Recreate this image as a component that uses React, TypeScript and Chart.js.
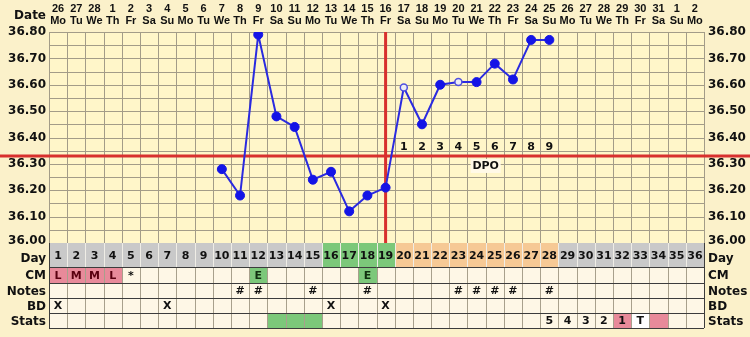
import React, { useEffect, useRef } from "react";
import { Chart, registerables } from "chart.js";
Chart.register(...registerables);

// ---------- DATA ----------
const cycleDays = [1,2,3,4,5,6,7,8,9,10,11,12,13,14,15,16,17,18,19,20,21,22,23,24,25,26,27,28,29,30,31,32,33,34,35,36];
const dateNumbers = ["26","27","28","1","2","3","4","5","6","7","8","9","10","11","12","13","14","15","16","17","18","19","20","21","22","23","24","25","26","27","28","29","30","31","1","2"];
const weekdays = ["Mo","Tu","We","Th","Fr","Sa","Su","Mo","Tu","We","Th","Fr","Sa","Su","Mo","Tu","We","Th","Fr","Sa","Su","Mo","Tu","We","Th","Fr","Sa","Su","Mo","Tu","We","Th","Fr","Sa","Su","Mo"];
const tempDays = [10,11,12,13,14,15,16,17,18,19,20,21,22,23,24,25,26,27,28];
const temperatures = [36.28,36.18,36.79,36.48,36.44,36.24,36.27,36.12,36.18,36.21,36.59,36.45,36.60,36.61,36.61,36.68,36.62,36.77,36.77];
const openCircleDays = [20,23];
const yTickValues = [36.0,36.1,36.2,36.3,36.4,36.5,36.6,36.7,36.8];
const yTickLabels = ["36.00","36.10","36.20","36.30","36.40","36.50","36.60","36.70","36.80"];
const coverline = 36.33;
const ovulationDay = 19;
const dpoDays = [20,21,22,23,24,25,26,27,28];
const dpoLabels = ["1","2","3","4","5","6","7","8","9"];
const fertileDays = [16,17,18,19];
const lutealDays = [20,21,22,23,24,25,26,27,28];
const cmDays = [1,2,3,4,5,12,18];
const cmCodes = ["L","M","M","L","*","E","E"];
const noteDays = [11,12,15,18,23,24,25,26,28];
const bdDays = [1,7,16,19];
const statsGreenDays = [13,14,15];
const statsDays = [28,29,30,31,32,33,34];
const statsLabels = ["5","4","3","2","1","T",""];
const rowLabels = ["Day","CM","Notes","BD","Stats"];

// ---------- STYLE ----------
const BG = "#FBF1CA";
const PLOT_BG = "#FFF6C9";
const CELL_BG = "#FEF7E6";
const GRID = "#A39C88";
const RED = "#D8302E";
const BLUE = "#2A2AE0";
const PINK = "#E88A9A";
const GREEN = "#7CC87A";
const ORANGE = "#F6C995";
const GRAY = "#C9C9C9";
const TXT = "#111";
const FONT_BIG = 'bold 12px "DejaVu Sans", sans-serif';
const FONT_CELL = 'bold 11px "DejaVu Sans", sans-serif';
const FONT_HEAD = 'bold 11px "Liberation Sans", Arial, sans-serif';

const rows = [
  { top: 243, bottom: 267 },
  { top: 267, bottom: 283 },
  { top: 283, bottom: 298 },
  { top: 298, bottom: 313 },
  { top: 313, bottom: 328 },
];

const framePlugin = {
  id: "bbtFrame",
  beforeDraw(chart: any) {
    const ctx = chart.ctx;
    const xs = chart.scales.x;
    const ys = chart.scales.y;
    const ca = chart.chartArea;
    ctx.save();
    ctx.fillStyle = BG;
    ctx.fillRect(0, 0, chart.width, chart.height);
    ctx.fillStyle = PLOT_BG;
    ctx.fillRect(ca.left, ca.top, ca.right - ca.left, ca.bottom - ca.top);

    // grid
    ctx.strokeStyle = GRID;
    ctx.lineWidth = 1;
    ctx.beginPath();
    for (let v = 36.0; v <= 36.801; v += 0.05) {
      const y = Math.round(ys.getPixelForValue(v)) + 0.5;
      ctx.moveTo(ca.left, y);
      ctx.lineTo(ca.right, y);
    }
    for (let d = 0; d <= cycleDays.length; d++) {
      const x = Math.round(xs.getPixelForValue(d + 0.5)) + 0.5;
      ctx.moveTo(x, ca.top);
      ctx.lineTo(x, ca.bottom);
    }
    ctx.stroke();

    // table
    const left = xs.getPixelForValue(0.5);
    const right = xs.getPixelForValue(36.5);
    const cl = (d: number) => Math.round(xs.getPixelForValue(d - 0.5));
    const cr = (d: number) => Math.round(xs.getPixelForValue(d + 0.5));
    const cx = (d: number) => xs.getPixelForValue(d);

    cycleDays.forEach((d) => {
      let c = GRAY;
      if (fertileDays.includes(d)) c = GREEN;
      if (lutealDays.includes(d)) c = ORANGE;
      ctx.fillStyle = c;
      ctx.fillRect(cl(d), rows[0].top, cr(d) - cl(d), rows[0].bottom - rows[0].top);
    });
    ctx.fillStyle = CELL_BG;
    ctx.fillRect(left, rows[1].top, right - left, rows[4].bottom - rows[1].top);

    cmDays.forEach((d, i) => {
      const code = cmCodes[i];
      let c: string | null = null;
      if (code === "L" || code === "M") c = PINK;
      if (code === "E") c = GREEN;
      if (c) {
        ctx.fillStyle = c;
        ctx.fillRect(cl(d), rows[1].top, cr(d) - cl(d), rows[1].bottom - rows[1].top);
      }
    });
    statsGreenDays.forEach((d) => {
      ctx.fillStyle = GREEN;
      ctx.fillRect(cl(d), rows[4].top, cr(d) - cl(d), rows[4].bottom - rows[4].top);
    });
    statsDays.forEach((d, i) => {
      const lab = statsLabels[i];
      let c: string | null = null;
      if (lab === "1" || lab === "") c = PINK;
      if (lab === "T") c = "#FFFFFF";
      if (c) {
        ctx.fillStyle = c;
        ctx.fillRect(cl(d), rows[4].top, cr(d) - cl(d), rows[4].bottom - rows[4].top);
      }
    });

    ctx.beginPath();
    ctx.strokeStyle = "#EFEDE6";
    for (let d = 1; d < cycleDays.length; d++) {
      const x = cr(d) + 0.5;
      ctx.moveTo(x, rows[0].top);
      ctx.lineTo(x, rows[0].bottom);
    }
    ctx.stroke();
    ctx.beginPath();
    ctx.strokeStyle = "#A8A08C";
    for (let d = 0; d <= cycleDays.length; d++) {
      const x = Math.round(xs.getPixelForValue(d + 0.5)) + 0.5;
      ctx.moveTo(x, rows[1].top);
      ctx.lineTo(x, rows[4].bottom);
    }
    ctx.stroke();
    ctx.beginPath();
    ctx.strokeStyle = "#3C3C3C";
    rows.forEach((r) => {
      ctx.moveTo(left, r.bottom + 0.5);
      ctx.lineTo(right, r.bottom + 0.5);
    });
    ctx.moveTo(Math.round(left) + 0.5, rows[0].top);
    ctx.lineTo(Math.round(left) + 0.5, rows[4].bottom);
    ctx.moveTo(Math.round(right) + 0.5, rows[0].top);
    ctx.lineTo(Math.round(right) + 0.5, rows[4].bottom);
    ctx.stroke();

    // table texts
    ctx.font = FONT_CELL;
    ctx.fillStyle = TXT;
    ctx.textAlign = "center";
    ctx.textBaseline = "middle";
    const mid = (r: any) => (r.top + r.bottom) / 2 + 1;
    cycleDays.forEach((d) => ctx.fillText(String(d), cx(d), mid(rows[0])));
    cmDays.forEach((d, i) => {
      ctx.fillStyle = cmCodes[i] === "E" ? "#103010" : cmCodes[i] === "*" ? TXT : "#5A0010";
      ctx.fillText(cmCodes[i], cx(d), mid(rows[1]));
    });
    ctx.fillStyle = TXT;
    noteDays.forEach((d) => ctx.fillText("#", cx(d), mid(rows[2])));
    bdDays.forEach((d) => ctx.fillText("X", cx(d), mid(rows[3])));
    statsDays.forEach((d, i) => ctx.fillText(statsLabels[i], cx(d), mid(rows[4])));

    ctx.font = FONT_BIG;
    rows.forEach((r, i) => {
      const y = mid(r) + (i === 0 ? 3 : 0);
      ctx.textAlign = "right";
      ctx.fillText(rowLabels[i], left - 3, y);
      ctx.textAlign = "left";
      ctx.fillText(rowLabels[i], right + 4, y);
    });

    yTickValues.forEach((v, i) => {
      const y = ys.getPixelForValue(v) + (i === 0 ? -2 : 0);
      ctx.textAlign = "right";
      ctx.fillText(yTickLabels[i], left - 3, y);
      ctx.textAlign = "left";
      ctx.fillText(yTickLabels[i], right + 4, y);
    });
    ctx.textAlign = "right";
    ctx.fillText("Date", left - 3, 16);

    // header
    ctx.font = FONT_HEAD;
    ctx.textAlign = "center";
    cycleDays.forEach((d, i) => {
      ctx.fillText(dateNumbers[i], cx(d), 9);
      ctx.fillText(weekdays[i], cx(d), 21);
    });

    ctx.restore();
  },
  beforeDatasetsDraw(chart: any) {
    const ctx = chart.ctx;
    const xs = chart.scales.x;
    const ys = chart.scales.y;
    const ca = chart.chartArea;
    ctx.save();
    ctx.strokeStyle = RED;
    ctx.lineWidth = 3;
    ctx.beginPath();
    const yc = ys.getPixelForValue(coverline);
    ctx.moveTo(0, yc);
    ctx.lineTo(chart.width, yc);
    const xo = xs.getPixelForValue(ovulationDay);
    ctx.moveTo(xo, ca.top);
    ctx.lineTo(xo, ca.bottom);
    ctx.stroke();

    ctx.font = FONT_CELL;
    ctx.fillStyle = TXT;
    ctx.textAlign = "center";
    ctx.textBaseline = "middle";
    dpoDays.forEach((d, i) => ctx.fillText(dpoLabels[i], xs.getPixelForValue(d), yc - 9));
    const dx = xs.getPixelForValue(24.5);
    ctx.fillStyle = "#FFF9E8";
    ctx.fillRect(dx - 15, yc + 3, 30, 14);
    ctx.fillStyle = TXT;
    ctx.fillText("DPO", dx, yc + 10);
    ctx.restore();
  },
};

export default function App() {
  const ref = useRef<HTMLCanvasElement>(null);
  useEffect(() => {
    if (!ref.current) return;
    const pts = tempDays.map((d, i) => ({ x: d, y: temperatures[i] }));
    const isOpen = tempDays.map((d) => openCircleDays.includes(d));
    const chart = new Chart(ref.current, {
      type: "line",
      data: {
        datasets: [
          {
            data: pts,
            borderColor: BLUE,
            borderWidth: 2,
            pointRadius: isOpen.map((o) => (o ? 3.5 : 4.5)),
            pointBackgroundColor: isOpen.map((o) => (o ? "#ECECF4" : "#1414E6")),
            pointBorderColor: isOpen.map((o) => (o ? "#5050E0" : "#1414E6")),
            pointBorderWidth: isOpen.map((o) => (o ? 1.5 : 1)),
            tension: 0,
          },
        ],
      },
      options: {
        responsive: false,
        devicePixelRatio: 1,
        animation: false,
        layout: { padding: { left: 49, right: 46, top: 32, bottom: 94 } },
        plugins: { legend: { display: false }, tooltip: { enabled: false } },
        scales: {
          x: { type: "linear", min: 0.5, max: 36.5, display: false },
          y: { type: "linear", min: 36.0, max: 36.8, display: false },
        },
      },
      plugins: [framePlugin],
    });
    return () => chart.destroy();
  }, []);
  return (
    <div style={{ position: "absolute", left: 0, top: 0, width: 750, height: 337 }}>
      <canvas ref={ref} width={750} height={337} />
    </div>
  );
}
